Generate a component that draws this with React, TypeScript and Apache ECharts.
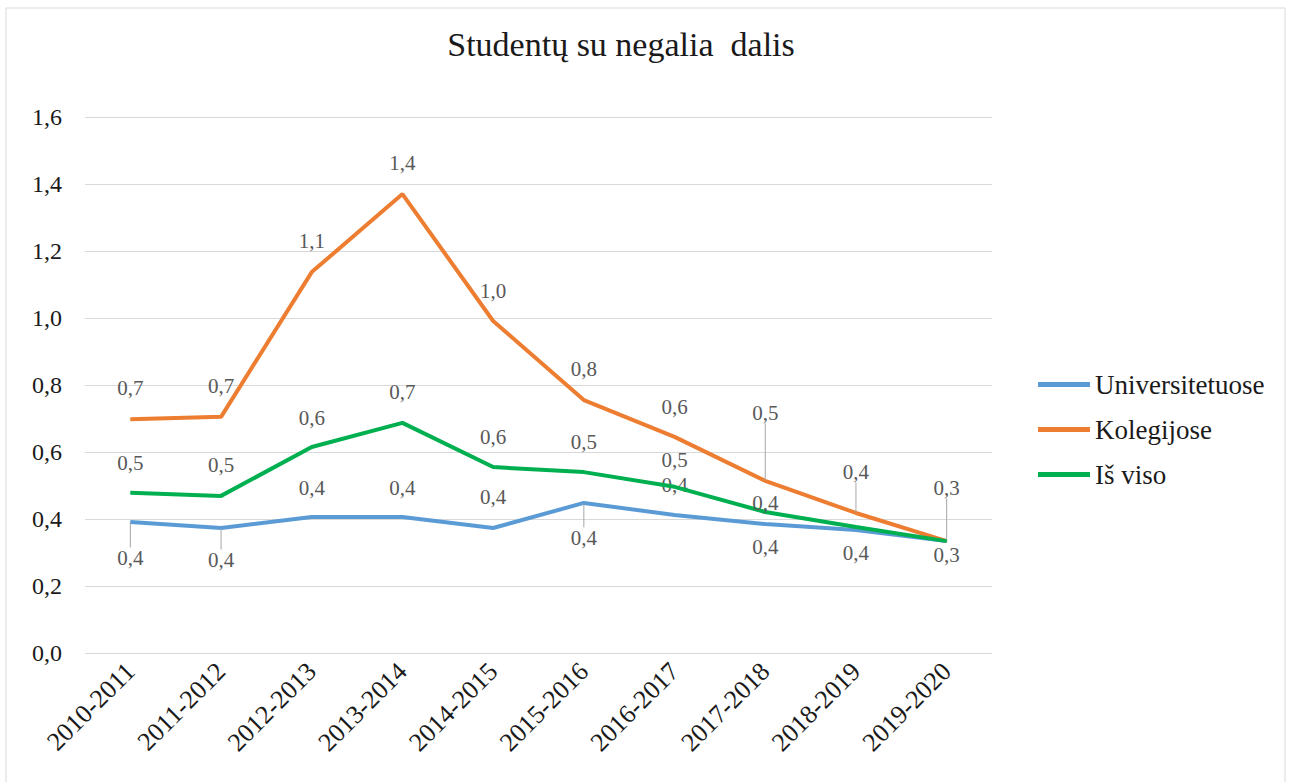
import React, { useEffect, useRef } from "react";
import * as echarts from "echarts";

const categories = ["2010-2011", "2011-2012", "2012-2013", "2013-2014", "2014-2015", "2015-2016", "2016-2017", "2017-2018", "2018-2019", "2019-2020"];
const universitetuose = [0.391, 0.373, 0.406, 0.406, 0.373, 0.448, 0.412, 0.385, 0.367, 0.334];
const kolegijose = [0.698, 0.705, 1.137, 1.37, 0.991, 0.755, 0.645, 0.514, 0.418, 0.334];
const isViso = [0.478, 0.469, 0.615, 0.687, 0.555, 0.54, 0.496, 0.421, 0.376, 0.334];
const seriesNames = ["Universitetuose", "Kolegijose", "Iš viso"];
const yTicks = [0, 0.2, 0.4, 0.6, 0.8, 1.0, 1.2, 1.4, 1.6];

// label layout: vertical offset of label centre from point (px), null = hidden
const labelOffsets = [
  [36, 32, -29, -29, -31, 35, -30, 23, 23, 14],
  [-31, -31, -31, -31, -30, -31, -30, -68, -41, -53],
  [-30, -31, -29, -31, -30, -30, -27, -9, null, null],
];
const leaders = [
  [true, true, false, false, false, true, false, false, false, false],
  [false, false, false, false, false, false, false, true, true, true],
  [false, false, false, false, false, false, false, false, false, false],
];
const colors = ["#5B9BD5", "#ED7D31", "#00B050"];
const FONT = "Liberation Serif";

const fmt = (v: number) => v.toFixed(1).replace(".", ",");

export default function App() {
  const ref = useRef<HTMLDivElement>(null);
  useEffect(() => {
    document.body.style.margin = "0";
    if (!ref.current) return;
    const chart = echarts.init(ref.current, undefined, { renderer: "svg" });
    const allData = [universitetuose, kolegijose, isViso];
    const series = allData.map((arr, si) => ({
      name: seriesNames[si],
      type: "line",
      data: arr.map((v, i) => {
        const off = labelOffsets[si][i];
        const item: any = { value: v };
        if (off === null) item.label = { show: false };
        if (leaders[si][i]) item.labelLine = { show: true };
        return item;
      }),
      symbol: "circle",
      symbolSize: 1,
      showSymbol: true,
      lineStyle: { width: 4, color: colors[si] },
      itemStyle: { color: colors[si] },
      z: si === 1 ? 3 : si === 2 ? 4 : 2,
      label: {
        show: true,
        position: "inside",
        formatter: (p: any) => fmt(p.value),
        fontFamily: FONT,
        fontSize: 21,
        color: "#595959",
      },
      labelLine: {
        show: false,
        lineStyle: { color: "#a6a6a6", width: 1 },
      },
      labelLayout: (params: any) => {
        const off = labelOffsets[si][params.dataIndex];
        return { dy: off === null ? 0 : off };
      },
    }));

    chart.setOption({
      animation: false,
      backgroundColor: "#ffffff",
      textStyle: { fontFamily: FONT },
      title: {
        text: "Studentų su negalia  dalis",
        left: 616,
        top: 22,
        textAlign: "center",
        textStyle: { fontFamily: FONT, fontSize: 34, fontWeight: "normal", color: "#1a1a1a" },
      },
      graphic: [
        {
          type: "rect",
          shape: { x: 6, y: 8, width: 1279, height: 790 },
          style: { fill: "none", stroke: "#d9d9d9", lineWidth: 1 },
          silent: true,
        },
      ],
      legend: {
        orient: "vertical",
        left: 1038,
        top: 371,
        padding: 0,
        icon: "rect",
        itemWidth: 52,
        itemHeight: 5,
        itemGap: 18,
        data: seriesNames,
        textStyle: { fontFamily: FONT, fontSize: 27, color: "#1a1a1a" },
      },
      grid: { left: 85, right: 301, top: 117, bottom: 129, containLabel: false },
      xAxis: {
        type: "category",
        data: categories,
        boundaryGap: true,
        axisLine: { show: false },
        axisTick: { show: false },
        axisLabel: {
          rotate: 45,
          margin: 14,
          fontFamily: FONT,
          fontSize: 26,
          color: "#1a1a1a",
          interval: 0,
        },
      },
      yAxis: {
        type: "value",
        min: yTicks[0],
        max: yTicks[yTicks.length - 1],
        interval: 0.2,
        axisLine: { show: false },
        axisTick: { show: false },
        splitLine: { lineStyle: { color: "#d9d9d9", width: 1 } },
        axisLabel: {
          margin: 23,
          fontFamily: FONT,
          fontSize: 24,
          color: "#1a1a1a",
          formatter: (v: number) => fmt(v),
        },
      },
      series,
    });
    return () => chart.dispose();
  }, []);
  return <div ref={ref} style={{ width: 1293, height: 782 }} />;
}
